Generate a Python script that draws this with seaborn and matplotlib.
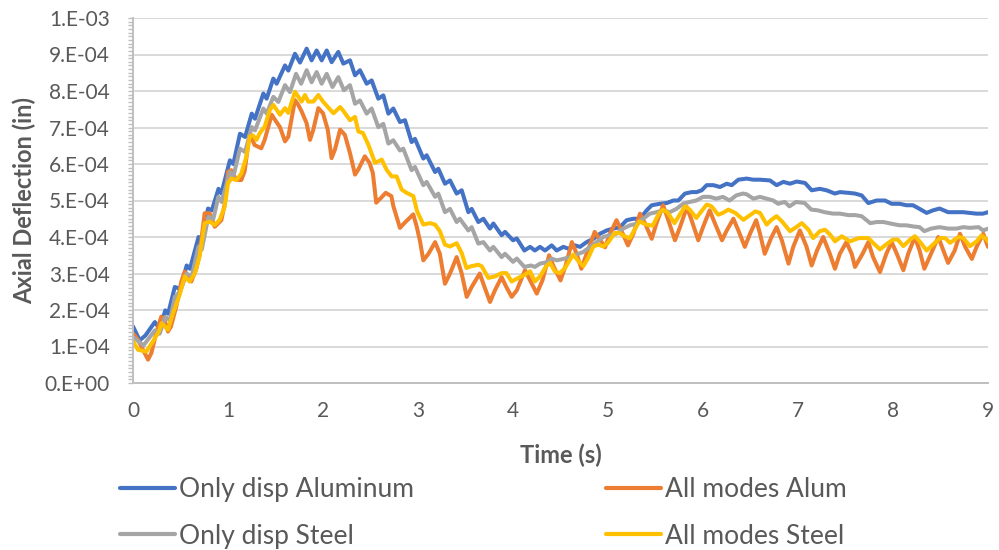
import numpy as np
import pandas as pd
import matplotlib
matplotlib.use("Agg")
import matplotlib.pyplot as plt
from matplotlib.lines import Line2D
from matplotlib.ticker import FuncFormatter, FixedLocator, MultipleLocator
import seaborn as sns

# ---------------- data (values in units of 1e-4 in) ----------------
VALUE_SCALE = 1e-4

series_names = ["Only disp Aluminum", "All modes Alum", "Only disp Steel", "All modes Steel"]
series_colors = ["#4472C4", "#ED7D31", "#A5A5A5", "#FFC000"]

blue_t = [0.0, 0.07, 0.13, 0.23, 0.28, 0.34, 0.37, 0.44, 0.50, 0.565, 0.60, 0.69, 0.72, 0.79, 0.83,
          0.90, 0.93, 1.02, 1.056, 1.126, 1.18, 1.25, 1.284, 1.372, 1.407, 1.477, 1.512, 1.60, 1.635,
          1.705, 1.758, 1.828, 1.88, 1.933, 1.986, 2.039, 2.091, 2.161, 2.214, 2.284, 2.337, 2.389,
          2.46, 2.512, 2.582, 2.635, 2.688, 2.74, 2.81, 2.863, 2.933, 2.968, 3.056, 3.091, 3.18, 3.214,
          3.284, 3.337, 3.407, 3.46, 3.53, 3.565, 3.635, 3.688, 3.758, 3.793, 3.88, 3.916, 4.0, 4.04,
          4.12, 4.18, 4.23, 4.284, 4.337, 4.407, 4.46, 4.53, 4.582, 4.653, 4.705, 4.775, 4.846, 4.916,
          4.986, 5.056, 5.126, 5.196, 5.267, 5.337, 5.407, 5.46, 5.547, 5.618, 5.688, 5.74, 5.81, 5.88,
          5.933, 5.986, 6.039, 6.109, 6.179, 6.25, 6.302, 6.372, 6.46, 6.53, 6.6, 6.705, 6.775, 6.846,
          6.916, 6.986, 7.074, 7.144, 7.23, 7.3, 7.389, 7.44, 7.53, 7.6, 7.67, 7.74, 7.828, 7.916,
          7.986, 8.07, 8.14, 8.21, 8.28, 8.354, 8.42, 8.49, 8.58, 8.67, 8.737, 8.807, 8.877, 8.947, 9.0]
blue_v = [1.55, 1.17, 1.30, 1.67, 1.48, 1.99, 1.90, 2.63, 2.58, 3.22, 3.13, 4.0, 3.91, 4.78, 4.73,
          5.32, 5.19, 6.1, 6.0, 6.83, 6.74, 7.38, 7.24, 7.93, 7.79, 8.34, 8.2, 8.70, 8.56,
          9.02, 8.78, 9.16, 8.84, 9.11, 8.84, 9.11, 8.79, 9.07, 8.75, 8.84, 8.43, 8.57,
          8.2, 8.29, 7.79, 7.88, 7.38, 7.52, 7.15, 7.2, 6.6, 6.69, 6.15, 6.24, 5.78, 5.87,
          5.46, 5.55, 5.19, 5.28, 4.68, 4.77, 4.41, 4.5, 4.23, 4.37, 4.05, 4.14, 3.91, 3.96,
          3.63, 3.73, 3.63, 3.73, 3.63, 3.77, 3.63, 3.73, 3.68, 3.77, 3.73, 3.86, 3.95, 4.09,
          4.18, 4.23, 4.27, 4.46, 4.5, 4.5, 4.73, 4.87, 4.91, 4.93, 5.0, 5.0, 5.19, 5.23,
          5.23, 5.28, 5.42, 5.42, 5.37, 5.46, 5.42, 5.57, 5.6, 5.57, 5.57, 5.55, 5.42, 5.51,
          5.46, 5.52, 5.48, 5.28, 5.32, 5.28, 5.19, 5.23, 5.21, 5.19, 5.14, 4.93, 5.0, 5.0,
          4.91, 4.91, 4.87, 4.87, 4.77, 4.66, 4.73, 4.78, 4.68, 4.68, 4.68, 4.66, 4.64, 4.64, 4.68]

orange_t = [0.0, 0.053, 0.123, 0.158, 0.193, 0.245, 0.298, 0.333, 0.368, 0.40, 0.456, 0.509, 0.544,
            0.58, 0.614, 0.667, 0.70, 0.754, 0.807, 0.86, 0.93, 0.965, 1.0, 1.035, 1.088, 1.14, 1.175,
            1.228, 1.28, 1.35, 1.386, 1.46, 1.51, 1.547, 1.6, 1.635, 1.705, 1.74, 1.775, 1.827, 1.863,
            1.898, 1.951, 2.0, 2.05, 2.09, 2.125, 2.18, 2.23, 2.284, 2.337, 2.372, 2.44, 2.49, 2.525,
            2.56, 2.61, 2.66, 2.72, 2.74, 2.81, 2.86, 2.95, 2.985, 3.02, 3.056, 3.11, 3.18, 3.23, 3.284,
            3.337, 3.407, 3.46, 3.513, 3.565, 3.65, 3.7, 3.758, 3.81, 3.88, 3.93, 3.986, 4.04, 4.126,
            4.18, 4.25, 4.31, 4.38, 4.43, 4.5, 4.55, 4.62, 4.67, 4.72, 4.775, 4.86, 4.91, 4.97, 5.02,
            5.09, 5.14, 5.21, 5.267, 5.337, 5.39, 5.46, 5.51, 5.58, 5.635, 5.705, 5.758, 5.83, 5.88,
            5.95, 6.0, 6.07, 6.126, 6.2, 6.25, 6.32, 6.372, 6.44, 6.495, 6.56, 6.6, 6.65, 6.72, 6.775,
            6.83, 6.9, 6.95, 7.02, 7.09, 7.144, 7.2, 7.265, 7.335, 7.389, 7.44, 7.51, 7.565, 7.6, 7.68,
            7.74, 7.79, 7.863, 7.93, 7.986, 8.04, 8.109, 8.16, 8.23, 8.28, 8.33, 8.4, 8.477, 8.53,
            8.58, 8.65, 8.705, 8.76, 8.83, 8.88, 8.95, 9.0]
orange_v = [1.36, 1.18, 0.82, 0.64, 0.82, 1.37, 1.82, 1.73, 1.41, 1.55, 2.1, 2.78, 3.05,
            2.87, 2.78, 3.14, 3.5, 4.65, 4.65, 4.28, 4.46, 4.9, 5.79, 5.83, 5.56, 5.56, 5.8,
            6.84, 6.52, 6.43, 6.66, 7.35, 7.15, 7.01, 6.62, 6.75, 7.75, 7.62, 7.44, 7.12, 6.66,
            6.94, 7.53, 7.39, 6.94, 6.16, 6.39, 6.94, 6.8, 6.3, 5.71, 5.85, 6.21, 6.03, 5.75,
            4.94, 5.07, 5.21, 5.12, 4.85, 4.25, 4.39, 4.62, 4.3, 3.9, 3.36, 3.54, 3.86, 3.54, 2.72,
            3.0, 3.45, 3.0, 2.36, 2.63, 3.0, 2.63, 2.22, 2.54, 2.9, 2.63, 2.36, 2.54, 3.09,
            2.81, 2.45, 2.81, 3.5, 3.18, 2.81, 3.18, 3.86, 3.54, 3.13, 3.54, 4.14, 3.95, 3.72, 4.09,
            4.46, 4.18, 3.77, 4.09, 4.64, 4.37, 3.95, 4.37, 4.87, 4.46, 3.91, 4.27, 4.82, 4.46,
            3.91, 4.27, 4.73, 4.37, 3.91, 4.18, 4.5, 4.18, 3.73, 4.09, 4.46, 4.09, 3.54, 3.99, 4.27,
            3.91, 3.27, 3.73, 4.18, 3.73, 3.22, 3.63, 4.0, 3.54, 3.13, 3.54, 3.86, 3.54, 3.18, 3.54,
            3.86, 3.45, 3.04, 3.54, 3.86, 3.54, 3.09, 3.54, 4.0, 3.63, 3.13, 3.54, 4.0, 3.63,
            3.29, 3.63, 4.09, 3.73, 3.4, 3.73, 4.09, 3.73]

grey_t = [0.0, 0.11, 0.23, 0.28, 0.34, 0.39, 0.44, 0.495, 0.565, 0.617, 0.688, 0.723, 0.793, 0.846,
          0.898, 0.933, 1.02, 1.056, 1.126, 1.18, 1.25, 1.284, 1.372, 1.407, 1.477, 1.53, 1.6, 1.652,
          1.716, 1.77, 1.828, 1.88, 1.933, 1.986, 2.039, 2.10, 2.161, 2.22, 2.284, 2.337, 2.389, 2.46,
          2.512, 2.582, 2.635, 2.688, 2.74, 2.81, 2.845, 2.933, 2.968, 3.056, 3.091, 3.18, 3.214,
          3.284, 3.337, 3.407, 3.44, 3.53, 3.565, 3.635, 3.688, 3.758, 3.793, 3.88, 3.916, 4.0, 4.04,
          4.12, 4.19, 4.23, 4.284, 4.355, 4.407, 4.46, 4.53, 4.6, 4.688, 4.74, 4.81, 4.88, 4.95, 5.02,
          5.09, 5.16, 5.23, 5.3, 5.37, 5.44, 5.51, 5.58, 5.65, 5.72, 5.79, 5.86, 5.93, 6.0, 6.07,
          6.14, 6.21, 6.28, 6.35, 6.42, 6.46, 6.53, 6.6, 6.67, 6.74, 6.79, 6.86, 6.91, 6.98, 7.07,
          7.14, 7.21, 7.28, 7.37, 7.44, 7.53, 7.6, 7.67, 7.76, 7.83, 7.9, 7.99, 8.07, 8.14, 8.21,
          8.28, 8.33, 8.40, 8.49, 8.58, 8.67, 8.74, 8.81, 8.9, 8.95, 9.0]
grey_v = [1.26, 1.03, 1.44, 1.35, 1.81, 1.72, 2.36, 2.5, 3.0, 2.91, 3.73, 3.65, 4.55, 4.5,
          5.1, 4.96, 5.78, 5.65, 6.42, 6.33, 7.01, 6.92, 7.52, 7.38, 7.84, 7.70, 8.16, 7.97,
          8.47, 8.2, 8.57, 8.24, 8.52, 8.2, 8.47, 8.11, 8.38, 8.02, 8.16, 7.65, 7.74, 7.38,
          7.52, 7.01, 7.1, 6.56, 6.65, 6.37, 6.42, 5.83, 5.92, 5.42, 5.51, 5.1, 5.19,
          4.68, 4.77, 4.41, 4.5, 4.18, 4.27, 3.82, 3.86, 3.63, 3.73, 3.45, 3.54, 3.32, 3.41,
          3.18, 3.22, 3.18, 3.27, 3.31, 3.41, 3.36, 3.40, 3.45, 3.54, 3.59, 3.73, 3.86, 4.0, 4.05,
          4.09, 4.23, 4.32, 4.36, 4.5, 4.64, 4.68, 4.73, 4.68, 4.77, 4.91, 4.96, 5.0, 5.1, 5.1,
          5.05, 5.1, 5.0, 5.14, 5.19, 5.17, 5.05, 5.1, 5.05, 5.0, 4.91, 4.96, 4.84, 4.96, 4.93,
          4.75, 4.73, 4.68, 4.64, 4.64, 4.6, 4.6, 4.57, 4.38, 4.41, 4.41, 4.36, 4.32, 4.32, 4.29,
          4.27, 4.16, 4.23, 4.27, 4.23, 4.23, 4.27, 4.25, 4.27, 4.18, 4.23]

yellow_t = [0.0, 0.053, 0.14, 0.21, 0.27, 0.30, 0.368, 0.42, 0.49, 0.544, 0.596, 0.65, 0.70, 0.754,
            0.81, 0.86, 0.912, 0.965, 1.0, 1.035, 1.09, 1.14, 1.193, 1.228, 1.26, 1.30, 1.333, 1.386,
            1.44, 1.477, 1.547, 1.60, 1.635, 1.705, 1.775, 1.81, 1.845, 1.898, 1.951, 2.0, 2.11, 2.18,
            2.21, 2.284, 2.337, 2.372, 2.42, 2.477, 2.51, 2.547, 2.618, 2.67, 2.723, 2.775, 2.828,
            2.88, 2.951, 2.99, 3.056, 3.126, 3.18, 3.23, 3.284, 3.337, 3.407, 3.46, 3.51, 3.56, 3.635,
            3.67, 3.74, 3.81, 3.88, 3.93, 3.986, 4.056, 4.126, 4.18, 4.23, 4.284, 4.35, 4.39, 4.44,
            4.495, 4.547, 4.6, 4.635, 4.688, 4.74, 4.79, 4.846, 4.898, 4.95, 5.0, 5.07, 5.12, 5.175,
            5.23, 5.28, 5.33, 5.4, 5.47, 5.54, 5.58, 5.63, 5.70, 5.755, 5.81, 5.86, 5.93, 5.97, 6.04,
            6.09, 6.16, 6.21, 6.267, 6.34, 6.425, 6.48, 6.55, 6.6, 6.67, 6.72, 6.775, 6.83, 6.916,
            6.97, 7.04, 7.11, 7.16, 7.23, 7.284, 7.34, 7.389, 7.46, 7.547, 7.64, 7.74, 7.79, 7.863,
            7.93, 8.0, 8.05, 8.109, 8.18, 8.23, 8.28, 8.354, 8.425, 8.495, 8.55, 8.6, 8.688, 8.74,
            8.81, 8.88, 8.93, 8.98, 9.0]
yellow_v = [1.14, 0.91, 0.86, 1.14, 1.4, 1.64, 1.46, 1.9, 2.41, 2.92, 2.78, 3.0, 3.46, 4.38,
            4.42, 4.33, 4.47, 4.83, 5.47, 5.6, 5.56, 5.74, 6.2, 6.75, 6.79, 6.66, 6.84, 7.02,
            7.48, 7.62, 7.35, 7.53, 7.4, 7.98, 7.71, 7.89, 7.71, 7.71, 7.89, 7.71, 7.39, 7.56,
            7.47, 7.2, 7.29, 6.89, 6.85, 6.53, 6.3, 6.03, 6.12, 5.84, 5.66, 5.66, 5.3,
            5.21, 5.12, 4.71, 4.34, 4.38, 4.34, 4.16, 3.79, 3.74, 3.83, 3.56, 3.15, 3.2, 3.24,
            3.2, 2.88, 2.92, 3.01, 3.01, 2.78, 2.88, 2.97, 3.06, 2.78, 2.92, 3.2, 3.29, 3.06,
            3.01, 3.15, 3.38, 3.52, 3.34, 3.2, 3.42, 3.74, 3.79, 3.74, 3.84, 4.11, 4.11, 4.02,
            3.97, 4.2, 4.43, 4.34, 4.31, 4.66, 4.75, 4.66, 4.38, 4.61, 4.84, 4.75, 4.52, 4.66, 4.89,
            4.84, 4.61, 4.66, 4.75, 4.66, 4.47, 4.57, 4.7, 4.66, 4.34, 4.47, 4.57, 4.43, 4.16,
            4.25, 4.38, 4.2, 3.97, 4.16, 4.2, 4.06, 3.88, 4.02, 3.88, 3.97, 3.97, 3.84, 3.66,
            3.8, 3.93, 3.93, 3.75, 3.93, 4.02, 3.88, 3.63, 3.8, 3.97, 3.97, 3.84, 4.0, 3.97,
            3.75, 3.88, 4.04, 3.95, 3.88]

x_ticks = [0, 1, 2, 3, 4, 5, 6, 7, 8, 9]
y_ticks = [0, 1e-4, 2e-4, 3e-4, 4e-4, 5e-4, 6e-4, 7e-4, 8e-4, 9e-4, 1e-3]
x_label = "Time (s)"
y_label = "Axial Deflection (in)"

# ---------------- build long-form table ----------------
frames = []
for name, t, v in zip(series_names,
                      [blue_t, orange_t, grey_t, yellow_t],
                      [blue_v, orange_v, grey_v, yellow_v]):
    frames.append(pd.DataFrame({"t": t, "v": np.array(v) * VALUE_SCALE, "series": name}))
df = pd.concat(frames, ignore_index=True)

# ---------------- style ----------------
sns.set_style("white")
plt.rcParams["font.family"] = ["Lato", "DejaVu Sans"]
TXT = "#595959"
GRID = "#d9d9d9"
AXIS = "#bfbfbf"

fig = plt.figure(figsize=(9.99, 5.5), dpi=100)
W, H = 999, 550
ax = fig.add_axes([133 / W, 1 - 383 / H, 855 / W, 365 / H])

sns.lineplot(data=df, x="t", y="v", hue="series", hue_order=series_names,
             palette=series_colors, estimator=None, sort=False, linewidth=2.9,
             legend=False, ax=ax)
for ln in ax.get_lines():
    ln.set_solid_joinstyle("round")
    ln.set_solid_capstyle("round")

ax.set_xlim(0, 9)
ax.set_ylim(0, 1e-3)
ax.xaxis.set_major_locator(FixedLocator(x_ticks))
ax.yaxis.set_major_locator(FixedLocator(y_ticks))
ax.yaxis.set_minor_locator(MultipleLocator(1e-5))
ax.yaxis.set_major_formatter(FuncFormatter(lambda v, p: f"{v:#.0E}"))
ax.xaxis.set_major_formatter(FuncFormatter(lambda v, p: f"{int(round(v))}"))

ax.grid(axis="y", which="major", color=GRID, linewidth=1.4)
ax.grid(axis="x", visible=False)
ax.set_axisbelow(True)
for s in ["top", "right"]:
    ax.spines[s].set_visible(False)
for s in ["left", "bottom"]:
    ax.spines[s].set_color(AXIS)
    ax.spines[s].set_linewidth(1.4)

ax.tick_params(axis="y", which="both", direction="out", length=3.6, width=1.0,
               color=AXIS, labelsize=15, labelcolor=TXT, pad=13, left=True)
ax.tick_params(axis="x", which="both", length=0, labelsize=15, labelcolor=TXT, pad=13)
ax.set_xlabel("")
ax.set_ylabel("")

fig.text(24 / W, 1 - 201 / H, y_label, rotation=90, ha="center", va="center",
         fontsize=17, fontweight="bold", color=TXT)
fig.text(561 / W, 1 - 455 / H, x_label, ha="center", va="center",
         fontsize=17, fontweight="bold", color=TXT)

# ---------------- legend (two columns laid out row-wise) ----------------
handles = [Line2D([], [], color=c, linewidth=3) for c in series_colors]
common = dict(frameon=False, fontsize=19, labelcolor=TXT, handlelength=2.1,
              handletextpad=0.15, borderpad=0, borderaxespad=0, labelspacing=0.82,
              loc="upper left")
fig.legend([handles[0], handles[2]], [series_names[0], series_names[2]],
           bbox_to_anchor=(120 / W, 1 - 477 / H), **common)
fig.legend([handles[1], handles[3]], [series_names[1], series_names[3]],
           bbox_to_anchor=(606 / W, 1 - 477 / H), **common)

fig.savefig("out.png", dpi=100)
